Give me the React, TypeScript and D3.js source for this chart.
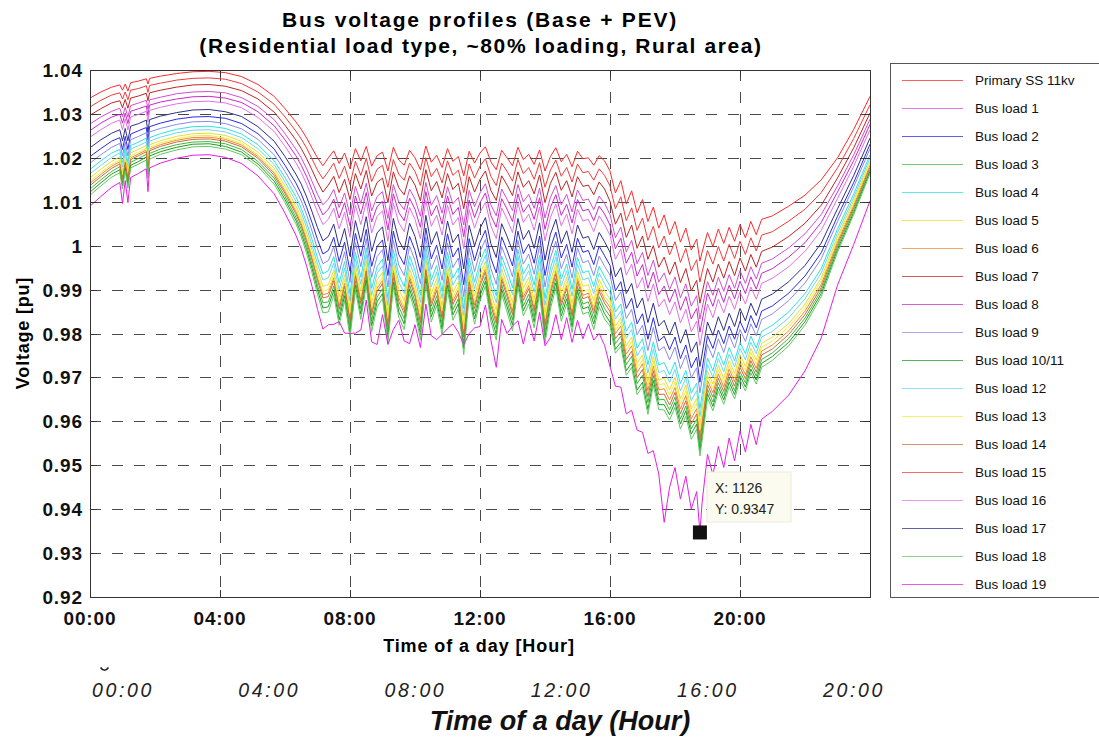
import React from 'react';
import * as d3 from 'd3';

// ---- sample times (minutes after midnight) ----
const minutes = [
  0, 20, 40, 55, 60, 65, 70, 75, 90, 104, 107, 110, 130, 160, 190, 220, 250, 280, 310, 340, 360, 380,
  390, 400, 410, 420, 430,
  440, 450, 460, 470, 480, 490, 500, 510, 520, 530,
  540, 550, 560, 570, 580, 590, 600, 610, 620, 630,
  640, 650, 660, 670, 680, 690, 700, 710, 720, 730,
  740, 750, 760, 770, 780, 790, 800, 810, 820, 830,
  840, 850, 860, 870, 880, 890, 900, 910, 920, 930,
  940, 950,
  960, 970, 980, 990, 1000, 1010, 1020, 1030, 1040, 1050, 1060, 1070, 1080, 1090, 1100, 1110, 1120, 1126,
  1130, 1140, 1150, 1160, 1170, 1180, 1190, 1200, 1210, 1220, 1230, 1240,
  1260, 1290, 1320, 1350, 1380, 1410, 1440,
];

// ---- primary substation voltage, 1e-4 pu ----
const primarySS = [
  10336, 10350, 10361, 10366, 10354, 10368, 10352, 10371, 10375, 10380, 10368, 10381, 10386, 10392, 10396, 10397, 10394, 10385, 10367, 10340, 10312, 10282,
  10265, 10245, 10222, 10200, 10182,
  10200, 10216, 10187, 10211, 10175, 10221, 10193, 10226, 10181, 10205,
  10213, 10170, 10224, 10195, 10183, 10217, 10200, 10173, 10227, 10190,
  10206, 10178, 10221, 10192, 10203, 10159, 10215, 10188, 10211, 10225,
  10191, 10173, 10217, 10200, 10182, 10224, 10196, 10208, 10185, 10218,
  10170, 10203, 10223, 10191, 10208, 10180, 10215, 10198, 10200, 10183,
  10205, 10193,
  10170, 10120, 10148, 10095, 10125, 10075, 10105, 10055, 10088, 10040, 10070, 10025, 10055, 10008, 10040, 9990, 10015, 9965,
  9985, 10030, 9998, 10038, 10005, 10042, 10010, 10048, 10018, 10055, 10025, 10060,
  10068, 10090, 10115, 10150, 10200, 10265, 10340,
];

// ---- voltage drop of each load bus below the primary, 1e-4 pu ----
const dropBus1 = [
  59, 57, 55, 53, 60, 53, 59, 52, 50, 49, 57, 49, 48, 46, 46, 46, 46, 48, 50, 53, 57, 62,
  65, 70, 76, 83, 89,
  94, 88, 100, 91, 105, 86, 97, 84, 102, 93,
  90, 108, 85, 96, 101, 88, 94, 106, 83, 98,
  92, 104, 87, 97, 93, 112, 89, 99, 91, 84,
  98, 105, 88, 94, 102, 85, 96, 91, 100, 87,
  107, 93, 86, 98, 91, 103, 88, 95, 94, 101,
  92, 97,
  99, 102, 106, 109, 113, 116, 120, 123, 121, 123, 132, 125, 126, 127, 127, 128, 129, 132,
  128, 112, 111, 110, 109, 108, 107, 105, 104, 103, 101, 100,
  98, 95, 88, 79, 64, 58, 52,
];
const dropBus2 = [
  133, 129, 123, 120, 135, 119, 133, 117, 113, 111, 128, 110, 107, 104, 103, 103, 104, 107, 112, 120, 129, 139,
  147, 158, 170, 186, 201,
  211, 197, 223, 203, 233, 193, 217, 189, 228, 207,
  200, 238, 191, 215, 226, 196, 211, 234, 187, 220,
  205, 231, 194, 218, 208, 248, 199, 222, 203, 190,
  219, 235, 197, 211, 228, 191, 214, 204, 225, 196,
  238, 208, 192, 219, 205, 229, 198, 213, 211, 226,
  206, 216,
  215, 223, 230, 238, 245, 253, 260, 268, 252, 257, 276, 262, 263, 265, 266, 268, 269, 276,
  267, 235, 232, 230, 228, 225, 223, 220, 217, 214, 212, 209,
  205, 198, 184, 166, 133, 121, 109,
];
const dropBus3 = [
  207, 200, 192, 186, 210, 185, 207, 181, 176, 172, 200, 171, 166, 162, 160, 160, 162, 166, 175, 186, 200, 217,
  228, 245, 265, 290, 312,
  328, 308, 344, 315, 359, 301, 337, 295, 352, 322,
  311, 366, 297, 334, 349, 306, 328, 361, 293, 340,
  320, 356, 301, 338, 324, 380, 309, 343, 315, 296,
  339, 362, 306, 328, 351, 297, 333, 318, 347, 305,
  366, 324, 298, 339, 318, 353, 308, 331, 328, 349,
  321, 336,
  331, 343, 354, 366, 377, 389, 400, 412, 384, 391, 420, 399, 400, 403, 405, 407, 410, 420,
  406, 357, 354, 350, 347, 343, 340, 335, 330, 326, 322, 319,
  312, 301, 280, 252, 203, 183, 167,
];
const dropBus4 = [
  162, 157, 150, 147, 165, 145, 162, 143, 139, 135, 158, 135, 131, 127, 125, 125, 127, 131, 137, 147, 157, 170,
  180, 193, 208, 228, 246,
  257, 241, 272, 247, 284, 236, 265, 231, 278, 253,
  244, 290, 233, 262, 276, 240, 257, 286, 229, 268,
  251, 282, 236, 266, 254, 302, 243, 271, 247, 232,
  267, 287, 241, 257, 278, 233, 261, 250, 275, 240,
  290, 254, 234, 267, 250, 279, 242, 260, 257, 276,
  252, 264,
  262, 271, 281, 290, 299, 308, 317, 326, 307, 312, 336, 319, 320, 322, 324, 326, 328, 336,
  325, 286, 283, 280, 277, 274, 272, 268, 264, 261, 258, 255,
  249, 241, 224, 202, 162, 147, 133,
];
const dropBus5 = [
  182, 176, 169, 164, 185, 163, 182, 160, 155, 152, 176, 151, 147, 143, 141, 141, 143, 147, 154, 164, 176, 191,
  201, 216, 233, 255, 275,
  289, 271, 304, 277, 317, 265, 297, 260, 311, 283,
  274, 323, 262, 294, 309, 270, 289, 319, 258, 300,
  281, 315, 266, 298, 285, 336, 273, 303, 277, 261,
  299, 320, 270, 289, 311, 262, 293, 280, 307, 269,
  323, 285, 263, 299, 280, 312, 272, 291, 289, 309,
  282, 296,
  292, 303, 313, 323, 333, 343, 354, 364, 340, 346, 372, 353, 355, 357, 358, 361, 363, 372,
  360, 316, 313, 310, 307, 304, 301, 296, 293, 289, 285, 282,
  276, 267, 248, 223, 180, 162, 148,
];
const dropBus6 = [
  194, 188, 180, 175, 198, 174, 194, 171, 166, 162, 189, 161, 156, 152, 150, 150, 152, 156, 164, 175, 188, 204,
  215, 231, 249, 273, 294,
  308, 289, 324, 296, 338, 283, 317, 277, 331, 302,
  292, 345, 279, 314, 329, 288, 308, 340, 275, 320,
  300, 336, 283, 318, 304, 358, 291, 323, 296, 278,
  319, 342, 288, 308, 331, 279, 313, 299, 327, 287,
  345, 304, 280, 319, 299, 333, 290, 311, 308, 329,
  301, 316,
  310, 320, 331, 342, 353, 364, 374, 385, 362, 368, 396, 376, 378, 380, 381, 384, 386, 396,
  383, 337, 333, 330, 327, 323, 320, 315, 312, 308, 304, 300,
  294, 284, 264, 238, 191, 173, 157,
];
const dropBus7 = [
  39, 38, 36, 36, 40, 35, 39, 35, 34, 33, 38, 33, 32, 31, 30, 30, 31, 32, 33, 36, 38, 41,
  44, 47, 50, 55, 60,
  62, 58, 66, 60, 70, 57, 64, 55, 68, 61,
  59, 72, 56, 63, 67, 58, 62, 71, 54, 65,
  60, 69, 57, 64, 61, 75, 58, 66, 60, 55,
  65, 70, 58, 62, 68, 56, 63, 60, 67, 57,
  72, 61, 56, 65, 60, 69, 58, 63, 62, 67,
  60, 64,
  69, 71, 74, 76, 78, 81, 83, 86, 88, 89, 96, 91, 92, 92, 92, 93, 94, 96,
  93, 82, 81, 80, 79, 78, 78, 76, 76, 75, 74, 73,
  71, 69, 64, 58, 46, 42, 38,
];
const dropBus8 = [
  74, 71, 68, 67, 75, 66, 74, 65, 63, 62, 72, 61, 59, 58, 57, 57, 58, 59, 62, 67, 71, 77,
  82, 88, 95, 104, 112,
  117, 110, 124, 113, 130, 108, 121, 105, 127, 116,
  112, 134, 106, 119, 126, 109, 117, 131, 104, 122,
  114, 129, 108, 121, 116, 139, 111, 124, 113, 105,
  122, 131, 110, 117, 127, 106, 120, 114, 125, 109,
  133, 116, 107, 122, 114, 128, 110, 119, 117, 126,
  115, 121,
  123, 127, 131, 135, 140, 144, 148, 152, 148, 151, 162, 154, 154, 155, 156, 157, 158, 162,
  157, 138, 136, 135, 134, 132, 131, 129, 127, 126, 124, 123,
  120, 116, 108, 97, 78, 71, 64,
];
const dropBus9 = [
  148, 143, 137, 133, 150, 132, 148, 130, 126, 123, 142, 122, 119, 116, 114, 114, 116, 119, 125, 133, 143, 155,
  163, 175, 189, 207, 223,
  234, 219, 248, 225, 259, 214, 241, 210, 253, 230,
  222, 264, 212, 239, 251, 218, 234, 260, 208, 244,
  228, 257, 215, 242, 231, 275, 221, 247, 225, 211,
  243, 261, 219, 234, 253, 212, 238, 227, 250, 218,
  264, 231, 213, 243, 228, 254, 220, 237, 234, 251,
  229, 240,
  237, 245, 253, 261, 270, 278, 286, 294, 274, 279, 300, 285, 286, 288, 289, 291, 293, 300,
  290, 255, 253, 250, 248, 245, 243, 239, 236, 233, 230, 228,
  223, 215, 200, 180, 145, 131, 119,
];
const dropBus10and11 = [
  214, 207, 198, 193, 218, 191, 214, 188, 183, 178, 207, 177, 172, 168, 165, 165, 168, 172, 181, 193, 207, 224,
  237, 254, 274, 300, 324,
  339, 318, 356, 325, 372, 311, 349, 305, 364, 333,
  322, 379, 307, 346, 361, 316, 339, 374, 303, 352,
  331, 368, 311, 350, 335, 393, 320, 355, 325, 306,
  351, 375, 316, 339, 363, 307, 344, 329, 359, 315,
  379, 335, 308, 351, 329, 365, 319, 342, 339, 361,
  332, 348,
  344, 356, 368, 380, 392, 404, 416, 428, 395, 402, 432, 410, 412, 414, 416, 419, 421, 432,
  418, 367, 364, 360, 356, 353, 349, 344, 340, 336, 331, 328,
  320, 310, 288, 259, 209, 189, 171,
];
const dropBus12 = [
  172, 167, 160, 155, 175, 154, 172, 151, 147, 144, 167, 143, 139, 135, 133, 133, 135, 139, 146, 155, 167, 181,
  190, 204, 221, 242, 260,
  273, 256, 288, 262, 300, 251, 281, 246, 294, 268,
  259, 306, 248, 278, 292, 255, 273, 302, 244, 284,
  266, 298, 251, 282, 270, 318, 258, 287, 262, 247,
  283, 303, 256, 273, 294, 248, 277, 265, 291, 255,
  306, 270, 249, 283, 265, 295, 257, 276, 273, 292,
  267, 280,
  277, 287, 297, 306, 316, 326, 335, 345, 323, 329, 354, 336, 337, 339, 341, 343, 345, 354,
  342, 301, 298, 295, 292, 289, 286, 282, 278, 275, 271, 268,
  263, 254, 236, 212, 171, 155, 140,
];
const dropBus13 = [
  189, 183, 176, 171, 193, 169, 189, 166, 162, 158, 184, 157, 152, 149, 146, 146, 149, 152, 160, 171, 183, 199,
  209, 225, 243, 266, 286,
  300, 282, 316, 288, 330, 276, 309, 270, 323, 294,
  285, 336, 272, 306, 321, 281, 300, 332, 268, 312,
  292, 327, 276, 310, 296, 349, 284, 315, 288, 271,
  311, 333, 281, 300, 323, 272, 305, 291, 319, 280,
  336, 296, 273, 311, 291, 324, 283, 303, 300, 321,
  293, 308,
  301, 312, 322, 333, 343, 354, 364, 375, 351, 357, 384, 365, 366, 368, 370, 372, 374, 384,
  371, 326, 323, 320, 317, 314, 310, 306, 302, 298, 294, 291,
  285, 275, 256, 230, 186, 168, 152,
];
const dropBus14 = [
  199, 193, 185, 180, 203, 178, 199, 175, 170, 166, 194, 165, 160, 156, 154, 154, 156, 160, 168, 180, 193, 209,
  220, 237, 255, 279, 301,
  316, 296, 332, 303, 347, 290, 325, 284, 339, 310,
  299, 354, 286, 322, 337, 295, 316, 349, 282, 328,
  308, 344, 290, 326, 312, 367, 298, 331, 303, 285,
  327, 350, 295, 316, 339, 286, 321, 306, 335, 294,
  354, 312, 287, 327, 306, 341, 297, 319, 316, 337,
  309, 324,
  320, 332, 343, 354, 365, 376, 387, 399, 373, 379, 408, 388, 389, 391, 393, 396, 398, 408,
  394, 347, 343, 340, 337, 333, 330, 325, 321, 317, 313, 309,
  303, 292, 272, 245, 197, 178, 162,
];
const dropBus15 = [
  20, 19, 18, 18, 20, 18, 20, 17, 17, 16, 19, 16, 16, 15, 15, 15, 15, 16, 17, 18, 19, 21,
  22, 23, 25, 28, 30,
  31, 28, 34, 30, 36, 29, 33, 27, 35, 31,
  30, 37, 28, 32, 34, 29, 31, 36, 27, 33,
  30, 35, 28, 32, 31, 38, 29, 34, 30, 27,
  33, 36, 29, 31, 35, 28, 32, 30, 34, 29,
  37, 31, 28, 33, 30, 35, 29, 32, 31, 34,
  30, 33,
  34, 36, 37, 38, 39, 40, 42, 43, 44, 45, 48, 46, 46, 46, 46, 47, 47, 48,
  46, 41, 40, 40, 40, 39, 39, 38, 38, 37, 37, 36,
  36, 34, 32, 29, 23, 21, 19,
];
const dropBus16 = [
  89, 86, 82, 80, 90, 79, 89, 78, 76, 74, 86, 73, 71, 69, 68, 68, 69, 71, 75, 80, 86, 93,
  98, 105, 113, 124, 134,
  140, 131, 149, 135, 156, 129, 145, 126, 152, 138,
  134, 160, 127, 143, 151, 130, 140, 157, 124, 146,
  137, 154, 129, 145, 139, 166, 133, 148, 135, 126,
  146, 157, 131, 140, 152, 127, 143, 136, 150, 130,
  159, 139, 128, 146, 136, 153, 132, 142, 140, 151,
  137, 145,
  146, 151, 156, 162, 167, 172, 177, 182, 175, 179, 192, 182, 183, 184, 185, 186, 187, 192,
  186, 163, 162, 160, 158, 157, 155, 153, 151, 149, 147, 146,
  142, 138, 128, 115, 93, 84, 76,
];
const dropBus17 = [
  113, 109, 105, 102, 115, 101, 113, 99, 97, 94, 110, 94, 91, 89, 87, 87, 89, 91, 96, 102, 109, 119,
  125, 134, 145, 159, 171,
  179, 167, 190, 172, 199, 164, 185, 160, 194, 176,
  170, 204, 162, 183, 193, 166, 179, 200, 158, 187,
  174, 197, 165, 185, 177, 212, 169, 189, 172, 161,
  186, 200, 167, 179, 194, 162, 182, 173, 191, 166,
  203, 177, 163, 186, 174, 195, 168, 181, 179, 192,
  175, 184,
  185, 191, 198, 204, 211, 217, 224, 230, 219, 223, 240, 228, 229, 230, 231, 233, 234, 240,
  232, 204, 202, 200, 198, 196, 194, 191, 189, 186, 184, 182,
  178, 172, 160, 144, 116, 105, 95,
];
const dropBus18 = [
  221, 214, 205, 200, 225, 198, 221, 194, 189, 185, 214, 184, 178, 174, 171, 171, 174, 178, 187, 200, 214, 232,
  245, 263, 284, 311, 335,
  351, 329, 368, 336, 385, 322, 361, 316, 377, 345,
  333, 392, 318, 358, 374, 327, 351, 387, 313, 364,
  342, 381, 322, 362, 347, 407, 331, 367, 336, 317,
  363, 388, 327, 351, 376, 318, 356, 341, 372, 326,
  392, 347, 319, 363, 341, 378, 330, 354, 351, 374,
  344, 360,
  353, 365, 377, 390, 402, 414, 426, 439, 406, 413, 444, 422, 423, 426, 428, 431, 433, 444,
  429, 377, 374, 370, 366, 363, 359, 354, 349, 345, 340, 337,
  329, 318, 296, 266, 215, 194, 176,
];
const dropBus19 = [
  246, 238, 228, 222, 258, 220, 254, 216, 210, 205, 245, 204, 198, 193, 190, 190, 193, 198, 208, 222, 238, 258,
  272, 292, 315, 345, 372,
  380, 395, 360, 410, 375, 420, 385, 350, 400, 430,
  370, 395, 415, 365, 400, 440, 380, 405, 360, 395,
  420, 380, 410, 370, 400, 385, 415, 375, 395, 360,
  405, 450, 385, 400, 365, 395, 420, 378, 402, 370,
  398, 412, 380, 405, 372, 400, 385, 410, 378, 398,
  405, 420,
  445, 440, 470, 478, 500, 495, 530, 528, 555, 560, 700, 575, 560, 585, 565, 590, 575, 618,
  570, 505, 520, 495, 510, 480, 500, 470, 488, 462, 478, 455,
  445, 430, 400, 360, 290, 262, 238,
];

const seriesNames = [
  'Primary SS 11kv', 'Bus load 1', 'Bus load 2', 'Bus load 3', 'Bus load 4', 'Bus load 5',
  'Bus load 6', 'Bus load 7', 'Bus load 8', 'Bus load 9', 'Bus load 10/11', 'Bus load 12',
  'Bus load 13', 'Bus load 14', 'Bus load 15', 'Bus load 16', 'Bus load 17', 'Bus load 18', 'Bus load 19',
];
const seriesColors = [
  '#ff2a2a', '#d24ed2', '#2a2ae6', '#3cba3c', '#2ee2e2', '#e6e02e',
  '#f0882e', '#bf2424', '#c82ac8', '#8a8ae8', '#1e9e1e', '#6ed6f2',
  '#eeee3a', '#c86c3c', '#f23a3a', '#e272e2', '#2e2e8c', '#62c862', '#e61ee6',
];
const seriesDrops = [
  null, dropBus1, dropBus2, dropBus3, dropBus4, dropBus5, dropBus6, dropBus7, dropBus8, dropBus9,
  dropBus10and11, dropBus12, dropBus13, dropBus14, dropBus15, dropBus16, dropBus17, dropBus18, dropBus19,
];

const hourTicks = [0, 240, 480, 720, 960, 1200];
const hourTickLabels = ['00:00', '04:00', '08:00', '12:00', '16:00', '20:00'];
const voltTicks = [0.92, 0.93, 0.94, 0.95, 0.96, 0.97, 0.98, 0.99, 1.0, 1.01, 1.02, 1.03, 1.04];
const voltTickLabels = ['0.92', '0.93', '0.94', '0.95', '0.96', '0.97', '0.98', '0.99', '1', '1.01', '1.02', '1.03', '1.04'];
const dataTip = { minute: 1126, value: 0.9347 };
const lowerHourLabels = ['00:00', '04:00', '08:00', '12:00', '16:00', '20:00'];

const W = 1099;
const H = 738;
const box = { left: 90, right: 870, top: 70, bottom: 597 };
const FONT = "'Liberation Sans', Arial, Helvetica, sans-serif";

type Pt = { m: number; v: number };

export default function App() {
  const x = d3.scaleLinear().domain([0, 1440]).range([box.left, box.right]);
  const y = d3.scaleLinear().domain([0.92, 1.04]).range([box.bottom, box.top]);

  const series = seriesNames.map((name, i) => {
    const drop = seriesDrops[i];
    const pts: Pt[] = minutes.map((m, k) => ({
      m,
      v: (primarySS[k] - (drop ? drop[k] : 0)) / 10000,
    }));
    return { name, color: seriesColors[i], pts };
  });

  const line = d3
    .line<Pt>()
    .defined((d) => Number.isFinite(d.v))
    .x((d) => x(d.m))
    .y((d) => y(d.v));

  const tickLen = 7;
  const lowerX = d3.scaleLinear().domain([0, lowerHourLabels.length - 1]).range([123, 854]);

  const tipX = x(dataTip.minute);
  const tipY = y(dataTip.value);

  return (
    <svg
      width={W}
      height={H}
      viewBox={`0 0 ${W} ${H}`}
      style={{ position: 'absolute', left: 0, top: 0, background: '#fff' }}
      fontFamily={FONT}
    >
      <defs>
        <clipPath id="plotClip">
          <rect x={box.left} y={box.top} width={box.right - box.left} height={box.bottom - box.top} />
        </clipPath>
      </defs>
      <rect x={0} y={0} width={W} height={H} fill="#fff" />

      {/* title */}
      <text x={480} y={27} textAnchor="middle" fontSize={21} fontWeight="bold" letterSpacing={1.8}>
        Bus voltage profiles (Base + PEV)
      </text>
      <text x={481} y={53} textAnchor="middle" fontSize={21} fontWeight="bold" letterSpacing={1.6}>
        (Residential load type, ~80% loading, Rural area)
      </text>

      {/* grid */}
      <g stroke="#4a4a4a" strokeWidth={1} strokeDasharray="11,11" fill="none">
        {voltTicks.slice(1, -1).map((v) => (
          <line key={`gy${v}`} x1={box.left} x2={box.right} y1={Math.round(y(v)) + 0.5} y2={Math.round(y(v)) + 0.5} />
        ))}
        {hourTicks.slice(1).map((m) => (
          <line key={`gx${m}`} x1={Math.round(x(m)) + 0.5} x2={Math.round(x(m)) + 0.5} y1={box.top} y2={box.bottom} />
        ))}
      </g>

      {/* voltage profiles */}
      <g clipPath="url(#plotClip)" fill="none" strokeWidth={1}>
        {series.map((s) => (
          <path key={s.name} d={line(s.pts) ?? ''} stroke={s.color} strokeLinejoin="round" />
        ))}
      </g>

      {/* axes box and ticks */}
      <rect
        x={box.left + 0.5}
        y={box.top + 0.5}
        width={box.right - box.left}
        height={box.bottom - box.top}
        fill="none"
        stroke="#333"
        strokeWidth={1}
      />
      <g stroke="#333" strokeWidth={1}>
        {voltTicks.map((v) => {
          const yy = Math.round(y(v)) + 0.5;
          return (
            <g key={`ty${v}`}>
              <line x1={box.left} x2={box.left + tickLen} y1={yy} y2={yy} />
              <line x1={box.right - tickLen} x2={box.right} y1={yy} y2={yy} />
            </g>
          );
        })}
        {hourTicks.map((m) => {
          const xx = Math.round(x(m)) + 0.5;
          return (
            <g key={`tx${m}`}>
              <line x1={xx} x2={xx} y1={box.top} y2={box.top + tickLen} />
              <line x1={xx} x2={xx} y1={box.bottom - tickLen} y2={box.bottom} />
            </g>
          );
        })}
      </g>

      {/* tick labels */}
      <g fontSize={19} fontWeight="bold" fill="#111" letterSpacing={0.9}>
        {voltTicks.map((v, i) => (
          <text key={`ly${v}`} x={box.left - 7} y={y(v) + 7} textAnchor="end">
            {voltTickLabels[i]}
          </text>
        ))}
        {hourTicks.map((m, i) => (
          <text key={`lx${m}`} x={x(m)} y={625} textAnchor="middle">
            {hourTickLabels[i]}
          </text>
        ))}
      </g>

      {/* axis titles */}
      <text x={479} y={652} textAnchor="middle" fontSize={18} fontWeight="bold" letterSpacing={0.9}>
        Time of a day [Hour]
      </text>
      <text
        transform="translate(29,333) rotate(-90)"
        textAnchor="middle"
        fontSize={18}
        fontWeight="bold"
        letterSpacing={0.8}
      >
        Voltage [pu]
      </text>

      {/* data tip */}
      <rect x={707} y={472} width={84} height={50} fill="#fbfbef" stroke="#ececdc" strokeWidth={1} />
      <text x={715} y={493} fontSize={14} fill="#222">{`X: ${dataTip.minute}`}</text>
      <text x={715} y={514} fontSize={14} fill="#222">{`Y: ${dataTip.value}`}</text>
      <rect x={tipX - 7} y={tipY - 7} width={14} height={14} fill="#111" />

      {/* legend */}
      <rect x={890.5} y={63.5} width={220} height={534} fill="#fff" stroke="#555" strokeWidth={1} />
      {series.map((s, i) => {
        const ly = 80.5 + i * 28;
        return (
          <g key={`lg${s.name}`}>
            <line x1={902} x2={963} y1={ly} y2={ly} stroke={s.color} strokeWidth={1.2} strokeOpacity={0.75} />
            <text x={975} y={ly + 4.5} fontSize={13.5} fill="#111">
              {s.name}
            </text>
          </g>
        );
      })}

      {/* lower time axis labels */}
      <g fontSize={19.5} fontStyle="italic" fill="#222" letterSpacing={2.6}>
        {lowerHourLabels.map((t, i) => (
          <text key={`lo${i}`} x={lowerX(i)} y={697} textAnchor="middle">
            {t}
          </text>
        ))}
      </g>
      <path d="M100.5,667.5 Q104.5,673 108.5,667.5" fill="none" stroke="#222" strokeWidth={1.6} />
      <text x={560} y={730} textAnchor="middle" fontSize={27} fontWeight="bold" fontStyle="italic" fill="#111">
        Time of a day (Hour)
      </text>
    </svg>
  );
}
